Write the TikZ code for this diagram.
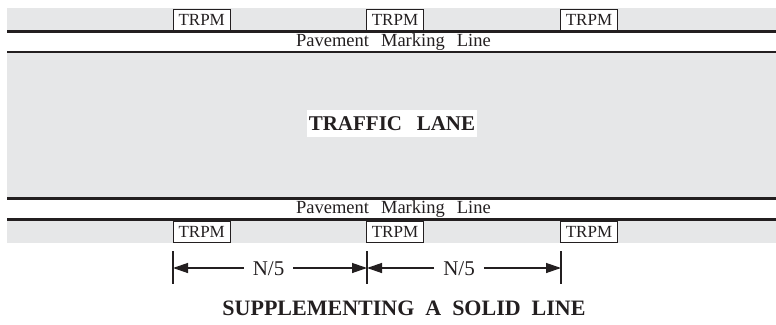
\documentclass[tikz,border=0pt]{standalone}
\usepackage{fontspec}
\setmainfont{Liberation Serif}
\usetikzlibrary{arrows.meta}
\definecolor{road}{HTML}{E6E7E8}
\definecolor{ink}{HTML}{231F20}
\begin{document}
\begin{tikzpicture}[x=1pt,y=-1pt,
 trpm/.style={draw=ink,line width=0.9pt,fill=white,minimum width=57pt,minimum height=21pt,inner sep=0pt,font=\fontsize{17}{17}\selectfont,text=ink},
 pml/.style={font=\fontsize{18.5}{18.5}\selectfont,text=ink,inner sep=0pt,anchor=base},
 edgeline/.style={ink,line width=2.5pt},
 tickline/.style={ink,line width=1.5pt},
 dimline/.style={ink,line width=1.3pt,-{Triangle[length=15pt,width=10pt]}},
 lbl/.style={font=\fontsize{21}{21}\selectfont,text=ink,inner xsep=9pt,inner ysep=0pt,anchor=base}]
\useasboundingbox (0,0) rectangle (776,324);
% road bands
\fill[road] (7,8) rectangle (776,31);
\fill[road] (7,52) rectangle (776,198.5);
\fill[road] (7,219.7) rectangle (776,243.3);
% edge lines
\draw[edgeline] (7,31.3) -- (776,31.3);
\draw[edgeline] (7,52) -- (776,52);
\draw[edgeline] (7,198.5) -- (776,198.5);
\draw[edgeline] (7,219.7) -- (776,219.7);
% pavement marking labels
\node[pml] (pm1) at (393.4,46.3) {Pavement\hspace{0.65em}Marking\hspace{0.65em}Line};
\node[pml] (pm2) at (393.4,213.8) {Pavement\hspace{0.65em}Marking\hspace{0.65em}Line};
% TRPM boxes
\node[trpm] (ta) at (201.7,19.5) {TRPM};
\node[trpm] (tb) at (395,19.5) {TRPM};
\node[trpm] (tc) at (589,19.5) {TRPM};
\node[trpm] (ba) at (201.7,231.5) {TRPM};
\node[trpm] (bb) at (395,231.5) {TRPM};
\node[trpm] (bc) at (589,231.5) {TRPM};
% traffic lane
\node[fill=white,minimum width=170.6pt,minimum height=26.7pt,inner sep=0pt,font=\bfseries\fontsize{21}{21}\selectfont,text=ink] (lane) at (392,123.3) {TRAFFIC\hspace{0.7em}LANE};
% dimension ticks
\coordinate (k1t) at (173,251); \coordinate (k1b) at (173,284);
\coordinate (k2t) at (367,251); \coordinate (k2b) at (367,284);
\coordinate (k3t) at (561,251); \coordinate (k3b) at (561,284);
\draw[tickline] (k1t) -- (k1b);
\draw[tickline] (k2t) -- (k2b);
\draw[tickline] (k3t) -- (k3b);
\coordinate (a1) at (173,268);
\coordinate (a2) at (367,268);
\coordinate (a3) at (561,268);
\node[lbl] (d1) at (268.5,275) {N/5};
\node[lbl] (d2) at (459,275) {N/5};
\draw[dimline] (d1.west |- a1) -- (a1);
\draw[dimline] (d1.east |- a2) -- (a2);
\draw[dimline] (d2.west |- a2) -- (a2);
\draw[dimline] (d2.east |- a3) -- (a3);
% title
\node[anchor=base,inner sep=0pt,font=\bfseries\fontsize{22}{22}\selectfont,text=ink] (title) at (404,315.7) {SUPPLEMENTING\hspace{0.5em}A\hspace{0.5em}SOLID\hspace{0.5em}LINE};
\end{tikzpicture}
\end{document}
